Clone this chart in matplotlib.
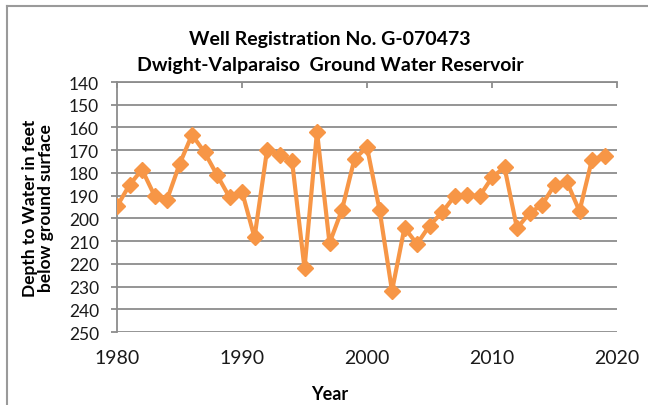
import matplotlib
matplotlib.use("Agg")
import matplotlib.pyplot as plt
from matplotlib.lines import Line2D

# depth to water (feet below ground surface), 1980-2019
years = list(range(1980, 2020))
depth = [194.7, 185.3, 178.5, 190.0, 191.8, 176.2, 163.2, 170.9, 180.9, 190.7,
         188.2, 208.4, 170.1, 172.0, 174.6, 222.0, 161.8, 210.9, 196.2, 173.8,
         168.7, 196.2, 231.9, 204.1, 211.3, 203.2, 197.4, 190.3, 189.7, 190.3,
         182.0, 177.5, 204.4, 197.6, 194.1, 185.3, 184.1, 196.8, 174.1, 172.6]
yticks = list(range(140, 251, 10))
xticks = [1980, 1990, 2000, 2010, 2020]

plt.rcParams['font.family'] = ['Lato', 'DejaVu Sans']
grey = '#8c8c8c'

fig = plt.figure(figsize=(6.48, 4.06), dpi=100)
ax = fig.add_axes([117/648, 1-333/406, 500/648, 250/406])

ax.plot(years, depth, color='#F79646', lw=3, marker='D', ms=8.5, zorder=3)

ax.set_xlim(1980, 2020)
ax.set_ylim(250, 140)
ax.set_yticks(yticks)
ax.set_xticks(xticks)
ax.grid(axis='y', color=grey, lw=1.3)
ax.set_axisbelow(True)

for s in ['right', 'bottom']:
    ax.spines[s].set_visible(False)
for s in ['left', 'top']:
    ax.spines[s].set_color(grey)
    ax.spines[s].set_linewidth(1.3)

ax.tick_params(axis='y', direction='out', length=4, width=1.3, color=grey,
               labelsize=12.5, pad=9, labelcolor='#1a1a1a')
ax.tick_params(axis='x', top=True, bottom=False, labeltop=False, labelbottom=True,
               direction='in', length=4, width=1.3, color=grey,
               labelsize=14, pad=12, labelcolor='#1a1a1a')

fig.text(330/648, 1-40/406, 'Well Registration No. G-070473', ha='center', va='center',
         fontsize=14, fontweight='bold')
fig.text(330/648, 1-66/406, 'Dwight-Valparaiso  Ground Water Reservoir', ha='center', va='center',
         fontsize=14, fontweight='bold')
fig.text(38/648, 1-208/406, 'Depth to Water in feet\nbelow ground surface', rotation=90,
         ha='center', va='center', fontsize=12.5, fontweight='bold', linespacing=1.05)
fig.text(330/648, 1-395/406, 'Year', ha='center', va='center', fontsize=13, fontweight='bold')

# chart border
fig.add_artist(Line2D([7/648, 7/648], [0, 1-7/406], color='#9a9a9a', lw=1.5,
                      transform=fig.transFigure))
fig.add_artist(Line2D([7/648, 1], [1-7/406, 1-7/406], color='#9a9a9a', lw=1.5,
                      transform=fig.transFigure))

fig.savefig('out.png', dpi=100)
